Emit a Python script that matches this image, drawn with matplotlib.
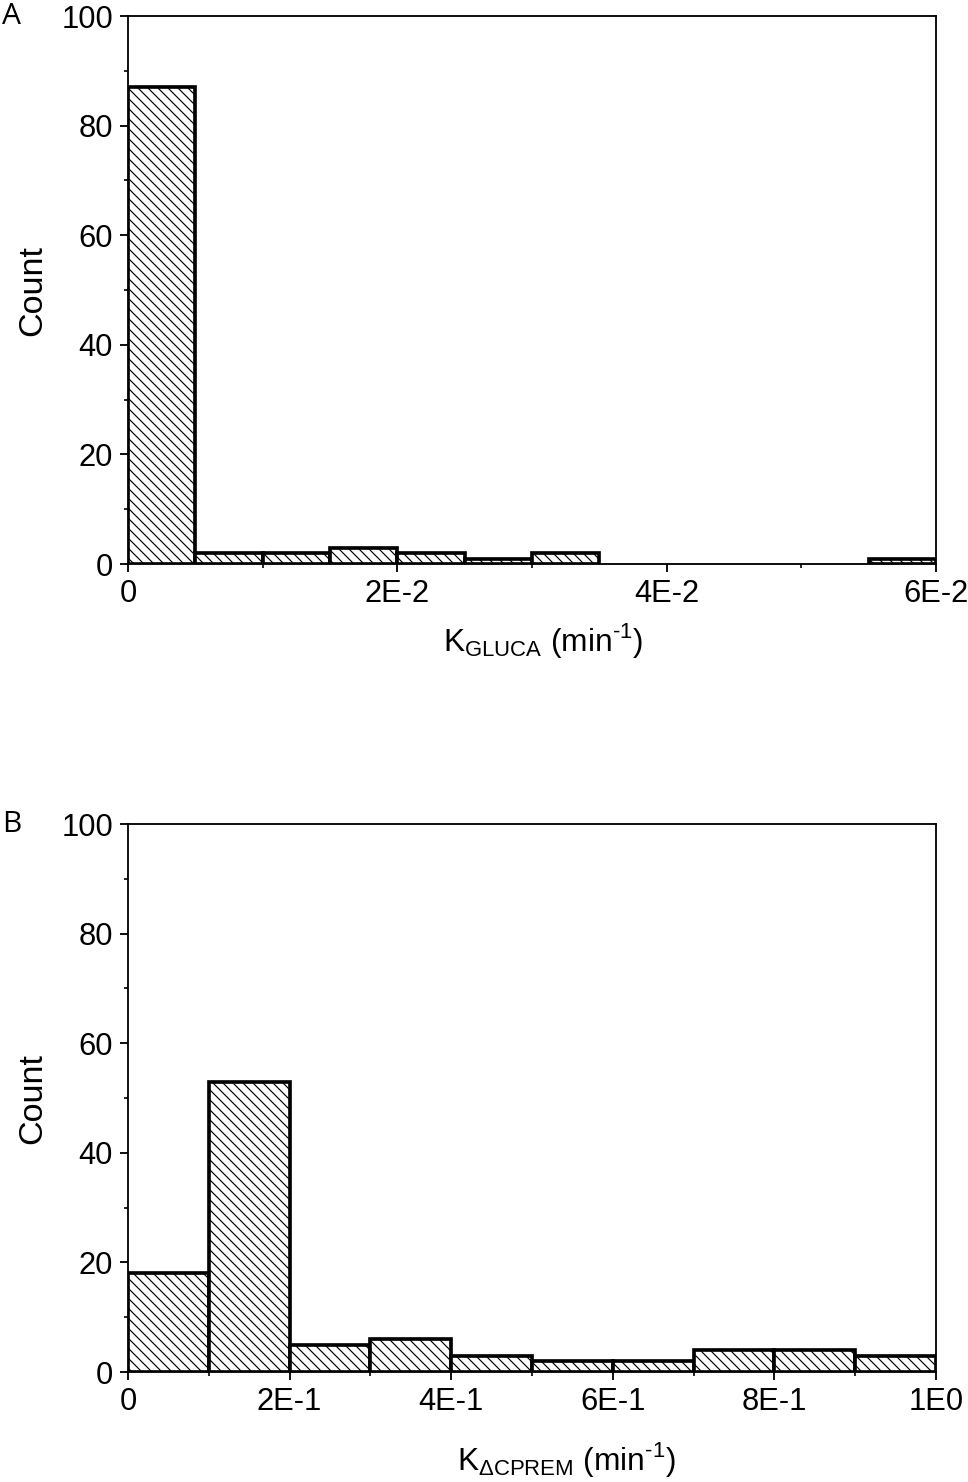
import numpy as np
import matplotlib.pyplot as plt
from matplotlib.ticker import FixedLocator, FixedFormatter, MultipleLocator

plt.rcParams['font.family'] = ['Liberation Sans', 'DejaVu Sans']
plt.rcParams['mathtext.fontset'] = 'custom'
plt.rcParams['mathtext.rm'] = 'Liberation Sans'
plt.rcParams['hatch.linewidth'] = 0.7

# panel A: K_GLUCA histogram
gluca_edges = [0, 0.005, 0.010, 0.015, 0.020, 0.025, 0.030, 0.035, 0.040, 0.045, 0.050, 0.055, 0.060]
gluca_counts = [87, 2, 2, 3, 2, 1, 2, 0, 0, 0, 0, 1]
gluca_ticks = [0, 0.02, 0.04, 0.06]
gluca_ticklabels = ['0', '2E-2', '4E-2', '6E-2']

# panel B: K_dCPREM histogram
cprem_edges = [0, 0.1, 0.2, 0.3, 0.4, 0.5, 0.6, 0.7, 0.8, 0.9, 1.0]
cprem_counts = [18, 53, 5, 6, 3, 2, 2, 4, 4, 3]
cprem_ticks = [0, 0.2, 0.4, 0.6, 0.8, 1.0]
cprem_ticklabels = ['0', '2E-1', '4E-1', '6E-1', '8E-1', '1E0']

W, H, DPI = 969, 1482, 120
fig = plt.figure(figsize=(W / DPI, H / DPI), dpi=DPI)

left = 128 / W
width = 808 / W
height = 548 / H
axA = fig.add_axes([left, 1 - 564 / H, width, height])
axB = fig.add_axes([left, 1 - 1372 / H, width, height])


def draw_hist(ax, edges, counts, ticks, ticklabels, minor, xlabel, xpad, xpos):
    edges = np.array(edges)
    counts = np.array(counts)
    keep = counts > 0
    ax.bar(edges[:-1][keep], counts[keep], width=np.diff(edges)[keep], align='edge',
           facecolor='white', edgecolor='black', linewidth=2.2, hatch='\\\\\\\\', zorder=2)
    ax.set_xlim(edges[0], edges[-1])
    ax.set_ylim(0, 100)
    ax.xaxis.set_major_locator(FixedLocator(ticks))
    ax.xaxis.set_major_formatter(FixedFormatter(ticklabels))
    ax.xaxis.set_minor_locator(MultipleLocator(minor))
    ax.yaxis.set_major_locator(MultipleLocator(20))
    ax.yaxis.set_minor_locator(MultipleLocator(10))
    ax.tick_params(which='major', direction='out', length=5, width=1.1, labelsize=18.5, pad=4)
    ax.tick_params(which='minor', direction='out', length=2.5, width=1.0)
    for s in ax.spines.values():
        s.set_linewidth(1.1)
    ax.set_ylabel('Count', fontsize=20.5, labelpad=8)
    ax.set_xlabel(xlabel, fontsize=19, labelpad=xpad)
    ax.xaxis.label.set_x(xpos)


draw_hist(axA, gluca_edges, gluca_counts, gluca_ticks, gluca_ticklabels, 0.01,
          r'K$_{\mathregular{GLUCA}}$ (min$^{\text{-1}}$)', 7, 0.514)
draw_hist(axB, cprem_edges, cprem_counts, cprem_ticks, cprem_ticklabels, 0.1,
          r'K$_{\mathregular{\Delta CPREM}}$ (min$^{\text{-1}}$)', 14, 0.542)

fig.text(2 / W, 1 - 16 / H, 'A', fontsize=18, family=['Open Sans', 'DejaVu Sans'], va='center')
fig.text(2 / W, 1 - 825 / H, 'B', fontsize=18, family=['Open Sans', 'DejaVu Sans'], va='center')

fig.savefig('out.png', dpi=DPI)
